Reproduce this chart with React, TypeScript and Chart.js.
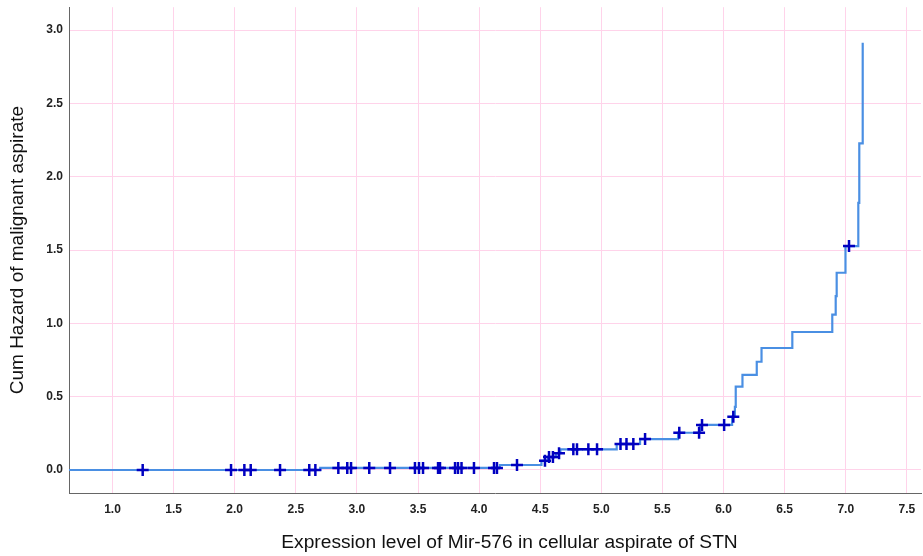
import React, { useEffect, useRef } from "react";
import { Chart, registerables } from "chart.js";

Chart.register(...registerables);

// Step function of the cumulative hazard (x = expression level, y = cum hazard after the step)
const X_MIN = 0.644;
const X_MAX = 7.616;
const Y_MIN = -0.157;
const Y_MAX = 3.156;

const stepX = [X_MIN, 2.70, 4.17, 4.51, 4.565, 4.63, 4.665, 5.126, 5.317, 5.628, 5.808, 6.07, 6.093, 6.10, 6.155, 6.272, 6.311, 6.563, 6.89, 6.918, 6.926, 6.998, 7.103, 7.111, 7.139];
const stepY = [0, 0.014, 0.034, 0.063, 0.088, 0.114, 0.141, 0.177, 0.211, 0.254, 0.307, 0.363, 0.431, 0.568, 0.648, 0.738, 0.832, 0.941, 1.059, 1.186, 1.345, 1.527, 1.822, 2.227, 2.913];

// Censored observations (plotted as +)
const censoredX = [1.247, 1.970, 2.079, 2.131, 2.371, 2.610, 2.660, 2.848, 2.921, 2.952, 3.101, 3.271, 3.475, 3.508, 3.541, 3.664, 3.680, 3.803, 3.827, 3.856, 3.958, 4.122, 4.146, 4.310, 4.539, 4.572, 4.604, 4.654, 4.771, 4.801, 4.894, 4.965, 5.157, 5.206, 5.262, 5.358, 5.638, 5.800, 5.824, 6.005, 6.080, 7.027];

const xTitle = "Expression level of Mir-576 in cellular aspirate of STN";
const yTitle = "Cum Hazard of malignant aspirate";

const FONT = "'Liberation Sans', Arial, Helvetica, sans-serif";

function levelAt(x: number): number {
  let y = 0;
  for (let i = 0; i < stepX.length; i++) {
    if (stepX[i] <= x) y = stepY[i];
  }
  return y;
}

// Draws the x-axis title slightly right of the plot centre, as in the original
const xTitlePlugin = {
  id: "xTitleOffset",
  afterDraw(chart: any) {
    const { ctx, chartArea } = chart;
    ctx.save();
    ctx.font = `19.2px ${FONT}`;
    ctx.fillStyle = "#111";
    ctx.textAlign = "center";
    ctx.textBaseline = "middle";
    ctx.fillText(xTitle, (chartArea.left + chartArea.right) / 2 + 14.5, chart.height - 13);
    ctx.restore();
  },
};

export default function App() {
  const ref = useRef<HTMLCanvasElement | null>(null);
  useEffect(() => {
    if (!ref.current) return;
    const chart = new Chart(ref.current, {
      type: "line",
      plugins: [xTitlePlugin],
      data: {
        datasets: [
          {
            label: "Censored",
            data: censoredX.map((x) => ({ x, y: levelAt(x) })),
            showLine: false,
            pointStyle: "cross",
            pointRadius: 6,
            pointBorderWidth: 2.5,
            pointBorderColor: "#0000c0",
            pointBackgroundColor: "#0000c0",
          },
          {
            label: "Cum Hazard",
            data: stepX.map((x, i) => ({ x, y: stepY[i] })),
            stepped: "before",
            borderColor: "#4a8fe3",
            borderWidth: 2.2,
            pointRadius: 0,
            fill: false,
          },
        ],
      },
      options: {
        animation: false,
        responsive: true,
        maintainAspectRatio: false,
        layout: { autoPadding: false, padding: { left: 0, right: 2, top: 7, bottom: 0 } },
        plugins: { legend: { display: false }, tooltip: { enabled: false } },
        scales: {
          x: {
            type: "linear",
            min: X_MIN,
            max: X_MAX,
            afterFit: (s: any) => {
              s.height = 63;
              s.paddingLeft = 0;
              s.paddingRight = 0;
            },
            ticks: {
              stepSize: 0.5,
              includeBounds: false,
              padding: 0,
              color: "#222",
              font: { family: FONT, size: 12, weight: "bold" },
              callback: (v: any) => Number(v).toFixed(1),
              maxRotation: 0,
              autoSkip: false,
            },
            grid: {
              color: "#ffd3ea",
              lineWidth: 1,
              drawTicks: true,
              tickLength: 9,
              tickColor: "rgba(0,0,0,0)",
            },
            border: { display: true, color: "#666", width: 1 },
            title: { display: false, text: xTitle },
          },
          y: {
            type: "linear",
            min: Y_MIN,
            max: Y_MAX,
            afterFit: (s: any) => {
              s.width = 69;
            },
            ticks: {
              stepSize: 0.5,
              includeBounds: false,
              padding: 0,
              color: "#222",
              font: { family: FONT, size: 12, weight: "bold" },
              callback: (v: any) => Number(v).toFixed(1),
            },
            grid: {
              color: "#ffd3ea",
              lineWidth: 1,
              drawTicks: true,
              tickLength: 6,
              tickColor: "rgba(0,0,0,0)",
            },
            border: { display: true, color: "#666", width: 1 },
            title: {
              display: true,
              text: yTitle,
              color: "#111",
              font: { family: FONT, size: 19 },
              padding: { top: 6.6, bottom: 6.6 },
            },
          },
        },
      },
    });
    return () => chart.destroy();
  }, []);
  return (
    <div style={{ position: "fixed", left: 0, top: 0, width: 923, height: 556, background: "#fff" }}>
      <canvas ref={ref} />
    </div>
  );
}
